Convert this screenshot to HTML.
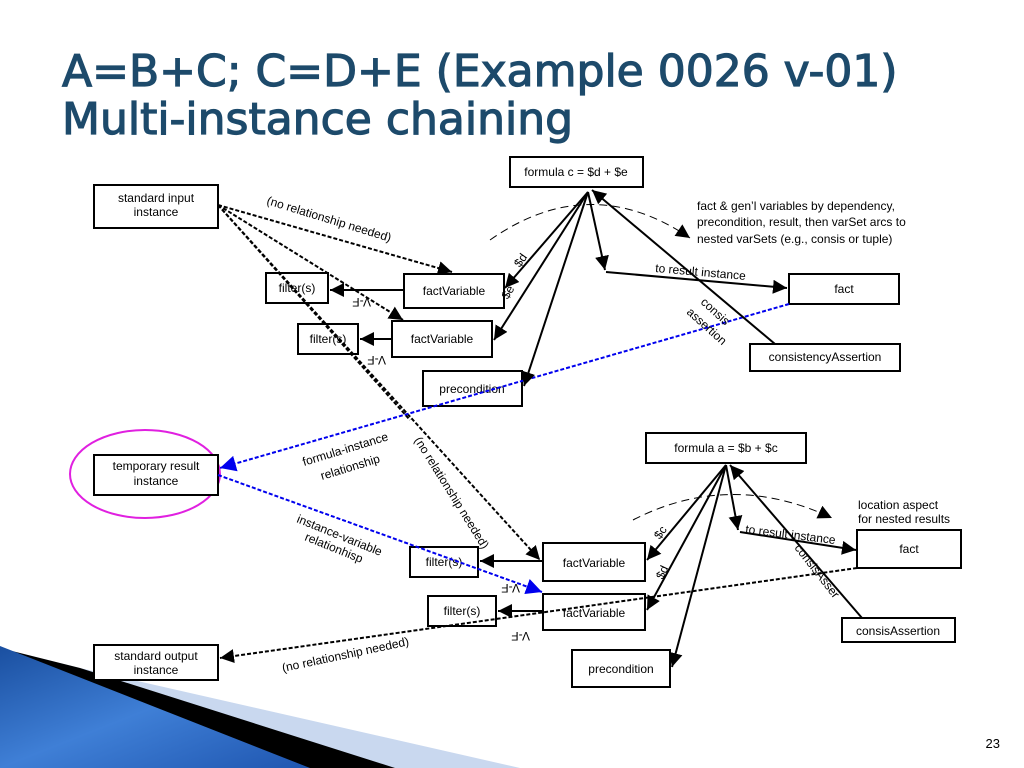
<!DOCTYPE html>
<html><head><meta charset="utf-8"><style>
html,body{margin:0;padding:0;background:#fff;}
svg{display:block;font-family:"Liberation Sans",sans-serif;}
</style></head><body>
<svg width="1024" height="768" viewBox="0 0 1024 768" xmlns="http://www.w3.org/2000/svg">
<defs>
<marker id="ab" viewBox="0 0 10 10" refX="10" refY="5" markerWidth="14" markerHeight="14" markerUnits="userSpaceOnUse" orient="auto"><path d="M0,0L10,5L0,10z" fill="#000"/></marker>
<marker id="bl" viewBox="0 0 10 10" refX="10" refY="5" markerWidth="16" markerHeight="16" markerUnits="userSpaceOnUse" orient="auto"><path d="M0,0L10,5L0,10z" fill="#0000ee"/></marker>
<linearGradient id="g" x1="0" y1="0" x2="1" y2="1"><stop offset="0" stop-color="#1a4fa0"/><stop offset="0.5" stop-color="#3f7fd6"/><stop offset="1" stop-color="#1f56b0"/></linearGradient>
</defs>
<polygon points="0,648 80,668 520,768 0,768" fill="#c9d8ef"/>
<polygon points="0,648 80,668 395,768 0,768" fill="#000"/>
<polygon points="0,646 310,768 0,768" fill="url(#g)"/>
<g font-size="44" fill="#1d4a6b" stroke="#1d4a6b" stroke-width="1.2" font-family="DejaVu Sans, Liberation Sans, sans-serif">
<text x="62" y="86">A=B+C; C=D+E (Example 0026 v-01)</text>
<text x="62" y="134">Multi-instance chaining</text>
</g>
<text x="1000" y="748" font-size="13" text-anchor="end">23</text>

<ellipse cx="145" cy="474" rx="75" ry="44" fill="none" stroke="#e020e0" stroke-width="2"/>
<g fill="#fff" stroke="#000" stroke-width="2">
<rect x="94" y="185" width="124" height="43"/>
<rect x="510" y="157" width="133" height="30"/>
<rect x="266" y="273" width="62" height="30"/>
<rect x="404" y="274" width="100" height="34"/>
<rect x="298" y="324" width="60" height="30"/>
<rect x="392" y="321" width="100" height="36"/>
<rect x="423" y="371" width="99" height="35"/>
<rect x="789" y="274" width="110" height="30"/>
<rect x="750" y="344" width="150" height="27"/>
<rect x="94" y="455" width="124" height="40"/>
<rect x="646" y="433" width="160" height="30"/>
<rect x="410" y="547" width="68" height="30"/>
<rect x="543" y="543" width="102" height="38"/>
<rect x="428" y="596" width="68" height="30"/>
<rect x="543" y="594" width="102" height="36"/>
<rect x="572" y="650" width="98" height="37"/>
<rect x="857" y="530" width="104" height="38"/>
<rect x="842" y="618" width="113" height="24"/>
<rect x="94" y="645" width="124" height="35"/>
</g>

<g font-size="12" text-anchor="middle" fill="#000">
<text x="156" y="202">standard input</text><text x="156" y="216">instance</text>
<text x="576" y="176">formula c = $d + $e</text>
<text x="297" y="292">filter(s)</text>
<text x="454" y="295">factVariable</text>
<text x="328" y="343">filter(s)</text>
<text x="442" y="343">factVariable</text>
<text x="472" y="393">precondition</text>
<text x="844" y="293">fact</text>
<text x="825" y="361">consistencyAssertion</text>
<text x="156" y="470">temporary result</text><text x="156" y="485">instance</text>
<text x="726" y="452">formula a = $b + $c</text>
<text x="444" y="566">filter(s)</text>
<text x="594" y="567">factVariable</text>
<text x="462" y="615">filter(s)</text>
<text x="594" y="617">factVariable</text>
<text x="621" y="673">precondition</text>
<text x="909" y="553">fact</text>
<text x="898" y="635">consisAssertion</text>
<text x="156" y="660">standard output</text><text x="156" y="674">instance</text>
</g>

<g stroke="#000" stroke-width="2" stroke-dasharray="4,2" fill="none">
<line x1="218" y1="205" x2="452" y2="272" marker-end="url(#ab)"/>
<line x1="218" y1="205" x2="403" y2="320" marker-end="url(#ab)"/>
<line x1="218" y1="205" x2="540" y2="560" marker-end="url(#ab)"/>
<line x1="218" y1="205" x2="410" y2="420"/>
<line x1="857" y1="568" x2="220" y2="658" marker-end="url(#ab)"/>
</g>
<g stroke="#0000ee" stroke-width="2" stroke-dasharray="4,2" fill="none">
<line x1="789" y1="304" x2="220" y2="468" marker-end="url(#bl)"/>
<line x1="218" y1="475" x2="542" y2="592" marker-end="url(#bl)"/>
</g>
<path d="M490,240 Q590,170 690,238" stroke="#000" stroke-width="1" stroke-dasharray="8,5" fill="none" marker-end="url(#ab)"/>
<path d="M633,520 Q730,470 832,518" stroke="#000" stroke-width="1" stroke-dasharray="8,5" fill="none" marker-end="url(#ab)"/>

<g stroke="#000" stroke-width="2" fill="none">
<line x1="404" y1="290" x2="330" y2="290" marker-end="url(#ab)"/>
<line x1="392" y1="339" x2="360" y2="339" marker-end="url(#ab)"/>
<line x1="588" y1="192" x2="505" y2="288" marker-end="url(#ab)"/>
<line x1="588" y1="192" x2="494" y2="340" marker-end="url(#ab)"/>
<line x1="588" y1="192" x2="524" y2="386" marker-end="url(#ab)"/>
<line x1="588" y1="192" x2="605" y2="270" marker-end="url(#ab)"/>
<line x1="606" y1="272" x2="787" y2="288" marker-end="url(#ab)"/>
<line x1="775" y1="344" x2="592" y2="190" marker-end="url(#ab)"/>
<line x1="543" y1="561" x2="480" y2="561" marker-end="url(#ab)"/>
<line x1="543" y1="611" x2="498" y2="611" marker-end="url(#ab)"/>
<line x1="726" y1="465" x2="647" y2="560" marker-end="url(#ab)"/>
<line x1="726" y1="465" x2="647" y2="610" marker-end="url(#ab)"/>
<line x1="726" y1="465" x2="672" y2="667" marker-end="url(#ab)"/>
<line x1="726" y1="465" x2="738" y2="530" marker-end="url(#ab)"/>
<line x1="740" y1="532" x2="856" y2="550" marker-end="url(#ab)"/>
<line x1="862" y1="618" x2="730" y2="465" marker-end="url(#ab)"/>
</g>

<g font-size="12" fill="#000">
<text transform="translate(266,204) rotate(17)">(no relationship needed)</text>
<text x="697" y="210">fact &amp; gen’l variables by dependency,</text>
<text x="697" y="226">precondition, result, then varSet arcs to</text>
<text x="697" y="243">nested varSets (e.g., consis or tuple)</text>
<text transform="translate(655,272) rotate(5)">to result instance</text>
<text transform="translate(520,268) rotate(-55)">$d</text>
<text transform="translate(508,300) rotate(-60)">$e</text>
<text transform="translate(371,298) rotate(180)">V-F</text>
<text transform="translate(386,356) rotate(180)">V-F</text>
<text transform="translate(700,303) rotate(42)">consis</text>
<text transform="translate(686,313) rotate(42)">assertion</text>
<text transform="translate(304,466) rotate(-17)">formula-instance</text>
<text transform="translate(322,480) rotate(-17)">relationship</text>
<text transform="translate(414,440) rotate(58)">(no relationship needed)</text>
<text transform="translate(296,522) rotate(22)">instance-variable</text>
<text transform="translate(304,540) rotate(22)">relationhisp</text>
<text transform="translate(520,584) rotate(180)">V-F</text>
<text transform="translate(530,632) rotate(180)">V-F</text>
<text transform="translate(283,672) rotate(-12)">(no relationship needed)</text>
<text transform="translate(660,540) rotate(-55)">$c</text>
<text transform="translate(663,580) rotate(-65)">$d</text>
<text transform="translate(745,533) rotate(7)">to result instance</text>
<text transform="translate(794,548) rotate(52)">consisAsser</text>
<text x="858" y="509">location aspect</text>
<text x="858" y="523">for nested results</text>
</g>
</svg>
</body></html>
